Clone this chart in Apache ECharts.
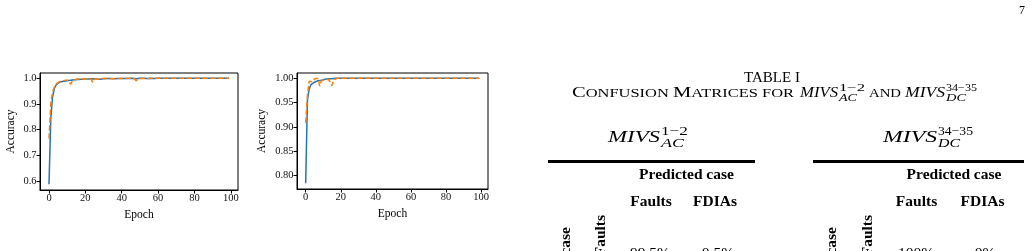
<!DOCTYPE html>
<html>
<head>
<meta charset="utf-8">
<script src="https://cdn.jsdelivr.net/npm/echarts@6/dist/echarts.min.js"></script>
<style>
html, body { margin: 0; padding: 0; background: #fff; }
#page { width: 1032px; height: 251px; }
</style>
</head>
<body>
<div id="page"></div>
<script>
// accuracy curves, left plot (AC)
const trainAC = [
  0.587, 0.845, 0.930, 0.962, 0.975, 0.982, 0.986, 0.988, 0.989, 0.990,
  0.991, 0.992, 0.993, 0.993, 0.994, 0.995, 0.995, 0.996, 0.996, 0.996,
  0.997, 0.997, 0.997, 0.997, 0.998, 0.998, 0.997, 0.993, 0.996, 0.998,
  0.998, 0.998, 0.999, 0.998, 0.999, 0.999, 0.998, 0.999, 0.999, 0.999,
  0.999, 0.999, 0.999, 1.000, 0.999, 0.999, 1.000, 0.999, 0.998, 0.999,
  1.000, 0.999, 1.000, 1.000, 0.999, 1.000, 1.000, 1.000, 0.999, 1.000,
  1.000, 1.000, 1.000, 1.000, 1.000, 1.000, 1.000, 1.000, 1.000, 1.000,
  1.000, 1.000, 1.000, 1.000, 1.000, 1.000, 1.000, 1.000, 1.000, 1.000,
  1.000, 1.000, 1.000, 1.000, 1.000, 1.000, 1.000, 1.000, 1.000, 1.000,
  1.000, 1.000, 1.000, 1.000, 1.000, 1.000, 1.000, 1.000, 1.000, 1.000
];
const valAC = [
  0.765, 0.905, 0.948, 0.967, 0.978, 0.984, 0.988, 0.985, 0.991, 0.988,
  0.994, 0.996, 0.977, 0.992, 0.996, 0.997, 0.994, 0.998, 0.996, 0.997,
  0.993, 0.998, 0.997, 0.998, 0.985, 0.997, 0.998, 0.996, 0.998, 0.999,
  0.997, 0.999, 0.998, 0.999, 1.000, 0.998, 0.999, 1.000, 0.999, 0.999,
  1.000, 0.999, 0.999, 1.000, 0.999, 1.000, 0.999, 0.998, 0.990, 0.998,
  1.000, 0.999, 1.000, 1.000, 1.000, 0.999, 1.000, 1.000, 1.000, 1.000,
  1.000, 1.000, 1.000, 1.000, 1.000, 1.000, 1.000, 1.000, 1.000, 1.000,
  1.000, 1.000, 1.000, 1.000, 1.000, 1.000, 1.000, 1.000, 1.000, 1.000,
  1.000, 1.000, 1.000, 1.000, 1.000, 1.000, 1.000, 1.000, 1.000, 1.000,
  1.000, 1.000, 1.000, 1.000, 1.000, 1.000, 1.000, 1.000, 1.000, 1.000
];
// accuracy curves, right plot (DC)
const trainDC = [
  0.784, 0.955, 0.978, 0.987, 0.990, 0.992, 0.994, 0.995, 0.996, 0.996,
  0.997, 0.998, 0.998, 0.999, 0.999, 0.999, 1.000, 1.000, 1.000, 1.000,
  1.000, 1.000, 1.000, 1.000, 1.000, 1.000, 1.000, 1.000, 1.000, 1.000,
  1.000, 1.000, 1.000, 1.000, 1.000, 1.000, 1.000, 1.000, 1.000, 1.000,
  1.000, 1.000, 1.000, 1.000, 1.000, 1.000, 1.000, 1.000, 1.000, 1.000,
  1.000, 1.000, 1.000, 1.000, 1.000, 1.000, 1.000, 1.000, 1.000, 1.000,
  1.000, 1.000, 1.000, 1.000, 1.000, 1.000, 1.000, 1.000, 1.000, 1.000,
  1.000, 1.000, 1.000, 1.000, 1.000, 1.000, 1.000, 1.000, 1.000, 1.000,
  1.000, 1.000, 1.000, 1.000, 1.000, 1.000, 1.000, 1.000, 1.000, 1.000,
  1.000, 1.000, 1.000, 1.000, 1.000, 1.000, 1.000, 1.000, 1.000, 1.000
];
const valDC = [
  0.908, 0.965, 0.994, 0.996, 0.993, 0.999, 0.995, 1.000, 0.984, 0.995,
  0.994, 0.997, 0.999, 0.998, 0.999, 0.985, 0.997, 0.999, 1.000, 1.000,
  1.000, 1.000, 1.000, 1.000, 1.000, 1.000, 1.000, 1.000, 1.000, 1.000,
  1.000, 1.000, 1.000, 1.000, 1.000, 1.000, 1.000, 1.000, 1.000, 1.000,
  1.000, 1.000, 1.000, 1.000, 1.000, 1.000, 1.000, 1.000, 1.000, 1.000,
  1.000, 1.000, 1.000, 1.000, 1.000, 1.000, 1.000, 1.000, 1.000, 1.000,
  1.000, 1.000, 1.000, 1.000, 1.000, 1.000, 1.000, 1.000, 1.000, 1.000,
  1.000, 1.000, 1.000, 1.000, 1.000, 1.000, 1.000, 1.000, 1.000, 1.000,
  1.000, 1.000, 1.000, 1.000, 1.000, 1.000, 1.000, 1.000, 1.000, 1.000,
  1.000, 1.000, 1.000, 1.000, 1.000, 1.000, 1.000, 1.000, 1.000, 1.000
];
const xTicks = [0, 20, 40, 60, 80, 100];
const yTicksAC = [0.6, 0.7, 0.8, 0.9, 1.0];
const yTicksDC = [0.80, 0.85, 0.90, 0.95, 1.00];

// table text
const tableTitle = 'TABLE I';
const captionWords = ['C', 'ONFUSION ', 'M', 'ATRICES FOR'];
const captionAnd = 'AND';
const predictedLabel = 'Predicted case';
const classNames = ['Faults', 'FDIAs'];
const actualLabel = 'Actual case';
const rowAC = ['99.5%', '0.5%'];
const rowDC = ['100%', '0%'];
const pageNumber = '7';

const serif = '"Liberation Serif", "Times New Roman", serif';
const blue = '#1f77b4';
const orange = '#ff7f0e';

const measureCtx = document.createElement('canvas').getContext('2d');
function textWidth(text, size, italic, bold) {
  measureCtx.font = (italic ? 'italic ' : '') + (bold ? 'bold ' : '') + size + 'px ' + serif;
  return measureCtx.measureText(text).width;
}

function pairs(arr) {
  return arr.map((v, i) => [i, v]);
}

function xAxisFor(gridIndex) {
  return {
    type: 'value', gridIndex: gridIndex, min: -4.95, max: 103.95,
    name: 'Epoch', nameLocation: 'middle', nameGap: 19, nameMoveOverlap: false,
    nameTextStyle: { fontFamily: serif, fontSize: 11.5, color: '#000' },
    axisLine: { show: true, onZero: false, lineStyle: { color: '#000', width: 1 } },
    splitLine: { show: false },
    axisTick: { show: true, length: 3.5, lineStyle: { color: '#000', width: 1 }, customValues: xTicks },
    axisLabel: { margin: 3, fontFamily: serif, fontSize: 10.5, color: '#111', customValues: xTicks }
  };
}

function yAxisFor(gridIndex, min, max, ticks, digits, gap) {
  return {
    type: 'value', gridIndex: gridIndex, min: min, max: max,
    name: 'Accuracy', nameLocation: 'middle', nameRotate: 90, nameGap: gap, nameMoveOverlap: false,
    nameTextStyle: { fontFamily: serif, fontSize: 11.5, color: '#000' },
    axisLine: { show: true, onZero: false, lineStyle: { color: '#000', width: 1 } },
    splitLine: { show: false },
    axisTick: { show: true, length: 3.5, lineStyle: { color: '#000', width: 1 }, customValues: ticks },
    axisLabel: {
      margin: 3.5, fontFamily: serif, fontSize: 10.5, color: '#111', customValues: ticks,
      formatter: v => v.toFixed(digits)
    }
  };
}

function lineSeries(idx, data, color, dashed) {
  return {
    type: 'line', xAxisIndex: idx, yAxisIndex: idx, data: pairs(data),
    showSymbol: false, silent: true,
    lineStyle: { color: color, width: 1.5, type: dashed ? [5.5, 2.4] : 'solid' }
  };
}

function txt(x, y, text, size, opts) {
  opts = opts || {};
  return {
    type: 'text', x: x, y: y, rotation: opts.rotation || 0, scaleX: opts.scaleX || 1,
    style: {
      text: text, fill: '#000', fontFamily: serif, fontSize: size,
      fontWeight: opts.bold ? 'bold' : 'normal', fontStyle: opts.italic ? 'italic' : 'normal',
      align: opts.align || 'center', verticalAlign: 'middle'
    }
  };
}

// left-aligned text stretched to span [x1, x2]
function fitText(x1, x2, y, text, size, italic) {
  const sx = (x2 - x1) / textWidth(text, size, italic, false);
  return txt(x1, y, text, size, { italic: italic, align: 'left', scaleX: sx });
}

// M I V S with super- and subscript, math-italic look
function mivs(x1, x2, y, size, sup, supEnd, sub, subEnd, supDy, subDy) {
  const small = size * 0.72;
  return [
    fitText(x1, x2, y, 'MIVS', size, true),
    fitText(x2 + 1, supEnd, y + supDy, sup, small, false),
    fitText(x2 + 1, subEnd, y + subDy, sub, small, true)
  ];
}

// small caps run: big letters and small capitals
function smallCaps(x1, x2, y, words, big, small) {
  let w = 0;
  words.forEach((s, i) => { w += textWidth(s, i % 2 === 0 ? big : small, false, false); });
  const sx = (x2 - x1) / w;
  const out = [];
  let x = x1;
  words.forEach((s, i) => {
    const size = i % 2 === 0 ? big : small;
    const dy = i % 2 === 0 ? 0 : (big - small) * 0.32;
    out.push(txt(x, y + dy, s, size, { align: 'left', scaleX: sx }));
    x += textWidth(s, size, false, false) * sx;
  });
  return out;
}

function rule(x1, x2, y) {
  return { type: 'line', shape: { x1: x1, y1: y, x2: x2, y2: y }, style: { stroke: '#000', lineWidth: 3 } };
}

const graphics = [
  txt(1022, 11, pageNumber, 12, {}),
  txt(772, 78.5, tableTitle, 15, {}),
  ...smallCaps(572, 794, 93, captionWords, 15, 12),
  ...smallCaps(869, 901, 93, ['', captionAnd], 15, 12),
  ...mivs(800, 838, 93, 14.5, '1\u22122', 865, 'AC', 857, -4.5, 5),
  ...mivs(905, 945, 93, 14.5, '34\u221235', 977, 'DC', 966, -4.5, 5),
  ...mivs(608, 660, 137.5, 17, '1\u22122', 688, 'AC', 684, -5.5, 6),
  ...mivs(883, 937, 137.5, 17, '34\u221235', 973, 'DC', 960, -5.5, 6),
  rule(548, 755, 161.5),
  rule(813, 1024, 161.5),
  txt(686.5, 174.5, predictedLabel, 15.5, { bold: true }),
  txt(954, 174.5, predictedLabel, 15.5, { bold: true }),
  txt(651, 201.5, classNames[0], 15.5, { bold: true }),
  txt(715, 201.5, classNames[1], 15.5, { bold: true }),
  txt(916.5, 201.5, classNames[0], 15.5, { bold: true }),
  txt(982.5, 201.5, classNames[1], 15.5, { bold: true }),
  txt(566, 227, actualLabel, 15.5, { bold: true, align: 'right', rotation: Math.PI / 2 }),
  txt(601, 215, classNames[0], 15.5, { bold: true, align: 'right', rotation: Math.PI / 2 }),
  txt(832, 227, actualLabel, 15.5, { bold: true, align: 'right', rotation: Math.PI / 2 }),
  txt(868, 215, classNames[0], 15.5, { bold: true, align: 'right', rotation: Math.PI / 2 }),
  txt(650, 254, rowAC[0], 15.5, {}),
  txt(718, 254, rowAC[1], 15.5, {}),
  txt(916, 254, rowDC[0], 15.5, {}),
  txt(985, 254, rowDC[1], 15.5, {})
];

const chart = echarts.init(document.getElementById('page'), null, { renderer: 'canvas' });
chart.setOption({
  animation: false,
  backgroundColor: '#fff',
  grid: [
    { left: 40, top: 73, width: 198, height: 117, show: true, borderColor: '#000', borderWidth: 1, outerBoundsMode: 'none', containLabel: false },
    { left: 297, top: 73, width: 191, height: 116, show: true, borderColor: '#000', borderWidth: 1, outerBoundsMode: 'none', containLabel: false }
  ],
  xAxis: [xAxisFor(0), xAxisFor(1)],
  yAxis: [
    yAxisFor(0, 0.5645, 1.0208, yTicksAC, 1, 23),
    yAxisFor(1, 0.7722, 1.0109, yTicksDC, 2, 29)
  ],
  series: [
    lineSeries(0, trainAC, blue, false),
    lineSeries(0, valAC, orange, true),
    lineSeries(1, trainDC, blue, false),
    lineSeries(1, valDC, orange, true)
  ],
  graphic: graphics
});
</script>
</body>
</html>
